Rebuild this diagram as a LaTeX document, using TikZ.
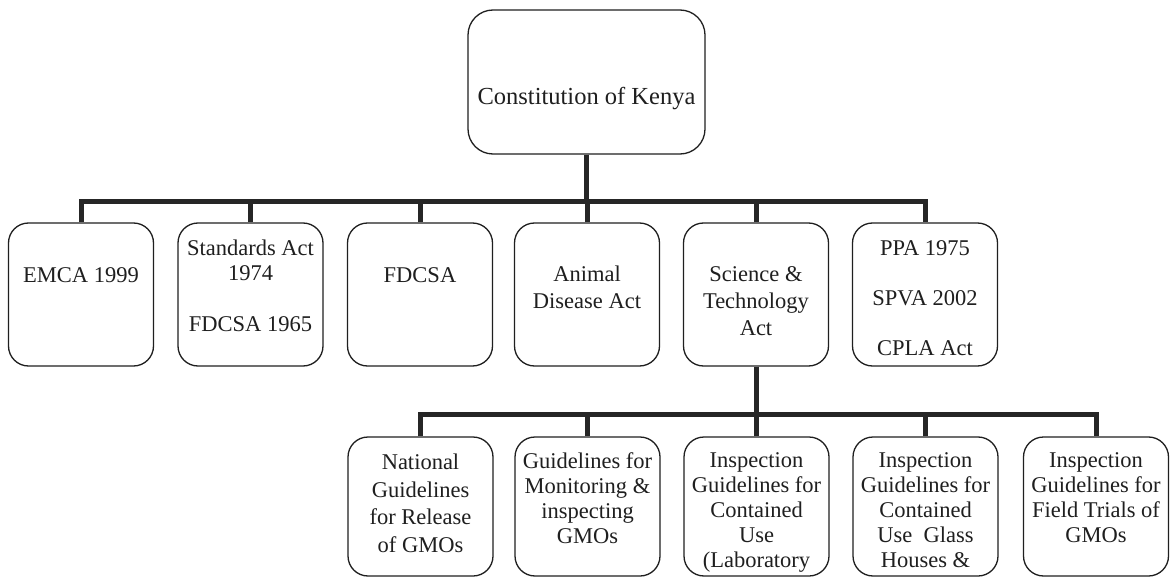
\documentclass[tikz,border=0pt]{standalone}
\usepackage{fontspec}
\setmainfont{Liberation Serif}
\begin{document}
\begin{tikzpicture}[x=1pt,y=-1pt,
  box/.style={draw=black!88, line width=1.3pt, rounded corners=20pt, minimum width=145pt, minimum height=143pt, inner sep=0pt, fill=white},
  lowbox/.style={box, minimum height=139pt},
  txt/.style={anchor=north, align=center, inner sep=0pt, text=black!88, font=\fontsize{22.5}{27}\selectfont},
  ltxt/.style={txt, font=\fontsize{22.5}{25}\selectfont},
  conn/.style={line width=5pt, line join=miter, draw=black!85}]
\useasboundingbox (0,0) rectangle (1171,578);
% top
\node[box, minimum width=237pt, minimum height=144pt, rounded corners=25pt] (top) at (586.5,82) {};
% row 2
\node[box] (emca) at (81,294.5) {};
\node[box] (std) at (250.5,294.5) {};
\node[box] (fdcsa) at (420,294.5) {};
\node[box] (animal) at (587,294.5) {};
\node[box] (sci) at (756,294.5) {};
\node[box] (ppa) at (925,294.5) {};
% row 3
\node[lowbox] (nat) at (420.5,506.5) {};
\node[lowbox] (mon) at (587.5,506.5) {};
\node[lowbox] (lab) at (756.5,506.5) {};
\node[lowbox] (glass) at (925.5,506.5) {};
\node[lowbox] (field) at (1096,506.5) {};
% bars
\coordinate (bar1) at (0,201);
\coordinate (bar2) at (0,414);
\draw[conn] (top.south) -- (top.south |- bar1);
\draw[conn] (emca.north) -- (emca.north |- bar1) -- (ppa.north |- bar1) -- (ppa.north);
\foreach \n in {std,fdcsa,animal,sci} \draw[conn] (\n.north) -- (\n.north |- bar1);
\draw[conn] (sci.south) -- (sci.south |- bar2);
\draw[conn] (nat.north) -- (nat.north |- bar2) -- (field.north |- bar2) -- (field.north);
\foreach \n in {mon,lab,glass} \draw[conn] (\n.north) -- (\n.north |- bar2);
% texts
\node[txt, font=\fontsize{24.5}{28}\selectfont] (ttop) at (586.5,87) {Constitution of Kenya};
\node[txt] (temca) at (81,267) {EMCA 1999};
\node[txt, font=\fontsize{22.5}{25}\selectfont] (tstd) at (250.5,240) {Standards Act\\1974\\[26pt]FDCSA 1965};
\node[txt] (tfdcsa) at (420,267) {FDCSA};
\node[txt] (tanimal) at (587,266) {Animal\\Disease Act};
\node[txt] (tsci) at (756,266) {Science \&\\Technology\\Act};
\node[txt] (tppa) at (925,240) {PPA 1975\\[23pt]SPVA 2002\\[23pt]CPLA Act};
\node[txt, font=\fontsize{22.5}{27.5}\selectfont] (tnat) at (420.5,454) {National\\Guidelines\\for Release\\of GMOs};
\node[ltxt] (tmon) at (587.5,452) {Guidelines for\\Monitoring \&\\inspecting\\GMOs};
\node[ltxt] (tlab) at (756.5,452) {Inspection\\Guidelines for\\Contained\\Use\\(Laboratory};
\node[ltxt] (tglass) at (925.5,452) {Inspection\\Guidelines for\\Contained\\Use~ Glass\\Houses \&};
\node[ltxt] (tfield) at (1096,452) {Inspection\\Guidelines for\\Field Trials of\\GMOs};
\end{tikzpicture}
\end{document}
